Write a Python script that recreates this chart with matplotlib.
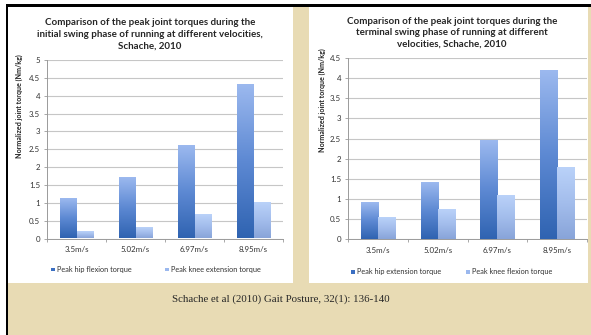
import numpy as np
import matplotlib
matplotlib.use("Agg")
import matplotlib.pyplot as plt
from matplotlib.colors import LinearSegmentedColormap
from matplotlib.patches import Rectangle

# Peak joint torques (Nm/kg), Schache et al. 2010
speeds = ["3.5m/s", "5.02m/s", "6.97m/s", "8.95m/s"]
initial_hip_flexion = [1.1, 1.7, 2.6, 4.3]
initial_knee_extension = [0.17, 0.3, 0.65, 1.0]
terminal_hip_extension = [0.9, 1.41, 2.45, 4.18]
terminal_knee_flexion = [0.53, 0.72, 1.08, 1.77]

initial_ticks = [0, 0.5, 1, 1.5, 2, 2.5, 3, 3.5, 4, 4.5, 5]
terminal_ticks = [0, 0.5, 1, 1.5, 2, 2.5, 3, 3.5, 4, 4.5]

W, H = 591, 335
PARCHMENT = "#e8dbb4"
HIP_CMAP = LinearSegmentedColormap.from_list("hip", ["#2f63b1", "#5d89d3", "#9cb9ef"])
KNEE_CMAP = LinearSegmentedColormap.from_list("knee", ["#88a4d9", "#a3bdec", "#bad2f9"])
TEXT = "#262626"

fig = plt.figure(figsize=(W / 100, H / 100), dpi=100, facecolor=PARCHMENT)


def fx(x):
    return x / W


def fy(y):
    return 1 - y / H


def px_rect(x0, y0, x1, y1, color):
    fig.add_artist(Rectangle((fx(x0), fy(y1)), (x1 - x0) / W, (y1 - y0) / H,
                             transform=fig.transFigure, facecolor=color,
                             edgecolor="none", zorder=0))


# slide frame
px_rect(0, 0, W, 4, "white")
px_rect(0, 0, 5.5, H, "white")
px_rect(5.5, 4, W, 6.5, "black")
px_rect(5.5, 4, 8, H, "black")
# chart panels
px_rect(8, 6.5, 293, 283, "white")
px_rect(309, 6.5, 588, 283, "white")


def gradient_bars(ax, xs, vals, width, cmap):
    img = np.linspace(1, 0, 256)[:, None]
    for x, v in zip(xs, vals):
        ax.imshow(img, cmap=cmap, vmin=0, vmax=1, aspect="auto",
                  extent=[x - width / 2, x + width / 2, 0, v],
                  interpolation="bilinear", zorder=3)


def draw_chart(rect_px, hip, knee, ticks, ymax):
    x0, y0, x1, y1 = rect_px
    ax = fig.add_axes([fx(x0), fy(y1), (x1 - x0) / W, (y1 - y0) / H])
    ax.set_facecolor("white")
    xs = np.arange(len(speeds))
    w = 0.286
    gradient_bars(ax, xs - w / 2, hip, w, HIP_CMAP)
    gradient_bars(ax, xs + w / 2, knee, w, KNEE_CMAP)
    ax.set_xlim(-0.5, len(speeds) - 0.5)
    ax.set_ylim(0, ymax)
    ax.set_yticks(ticks)
    ax.set_yticklabels([f"{t:g}" for t in ticks])
    ax.set_xticks(xs)
    ax.set_xticklabels(speeds)
    ax.set_xticks(np.arange(-0.5, len(speeds)), minor=True)
    ax.tick_params(axis="x", which="major", length=0, pad=5.5,
                   labelsize=5.7, labelcolor="#333333")
    ax.tick_params(axis="x", which="minor", length=2.5, width=0.6, color="#9a9a9a")
    ax.tick_params(axis="y", length=2.5, width=0.6, color="#9a9a9a", pad=2.5,
                   labelsize=5.7, labelcolor="#333333")
    for lab in ax.get_xticklabels() + ax.get_yticklabels():
        lab.set_family("Lato")
    ax.yaxis.grid(True, color="#c6c6c6", lw=0.8)
    ax.set_axisbelow(True)
    for s in ("top", "right"):
        ax.spines[s].set_visible(False)
    for s in ("left", "bottom"):
        ax.spines[s].set_color("#9a9a9a")
        ax.spines[s].set_linewidth(0.7)
    return ax


draw_chart((47, 60, 283, 238.5), initial_hip_flexion, initial_knee_extension,
           initial_ticks, 5)
draw_chart((348, 58, 587, 239.3), terminal_hip_extension, terminal_knee_flexion,
           terminal_ticks, 4.5)

title_kw = dict(ha="center", va="center", fontsize=7.0, fontweight="bold",
                family="Lato", color=TEXT, linespacing=1.36)
fig.text(fx(150), fy(34.5),
         "Comparison of the peak joint torques during the\n"
         "initial swing phase of running at different velocities,\n"
         "Schache, 2010", **title_kw)
fig.text(fx(452), fy(32.7),
         "Comparison of the peak joint torques during the\n"
         "terminal swing phase of running at different\n"
         "velocities, Schache, 2010", **title_kw)

ylab_kw = dict(ha="center", va="center", rotation=90, fontsize=5.1,
               fontweight="bold", family="Lato", color=TEXT)
fig.text(fx(19), fy(106), "Normalized joint torque (Nm/kg)", **ylab_kw)
fig.text(fx(322), fy(100), "Normalized joint torque (Nm/kg)", **ylab_kw)


def legend_item(x, y, color, label):
    px_rect(x - 1.8, y - 1.8, x + 1.8, y + 1.8, color)
    fig.text(fx(x + 3.8), fy(y), label, ha="left", va="center", fontsize=5.3,
             family="Lato", color="#333333")


legend_item(53, 269.3, "#3b6fc2", "Peak hip flexion torque")
legend_item(167, 269.3, "#9bb8ee", "Peak knee extension torque")
legend_item(353, 271.7, "#3b6fc2", "Peak hip extension torque")
legend_item(468, 271.7, "#9bb8ee", "Peak knee flexion torque")

fig.text(fx(281), fy(299), "Schache et al (2010) Gait Posture, 32(1): 136-140",
         ha="center", va="center", fontsize=7.8, family="Liberation Serif",
         color="#262626")

fig.savefig("out.png", dpi=100, facecolor=PARCHMENT)
